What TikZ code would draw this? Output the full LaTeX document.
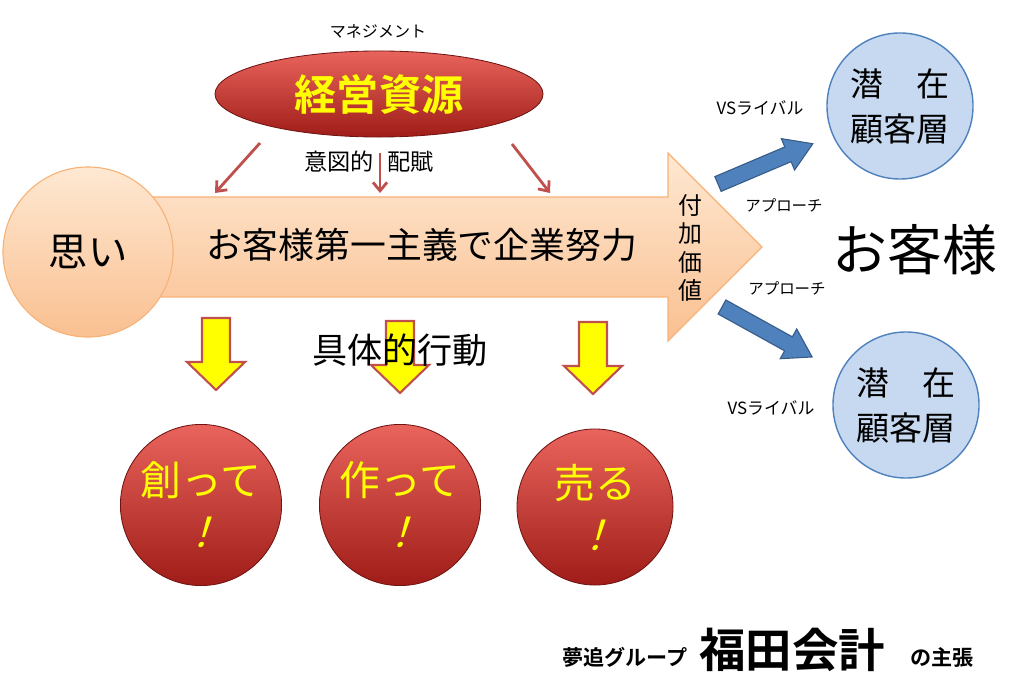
\documentclass[tikz,border=0pt]{standalone}
\usepackage{fontspec}
\setmainfont{Noto Sans CJK JP}[BoldFont={* Bold}]
\newfontfamily\slantjp[FakeSlant=0.3]{Noto Sans CJK JP}
\usetikzlibrary{shapes.geometric,arrows.meta}

\definecolor{kred}{RGB}{192,80,77}
\definecolor{ballredlt}{RGB}{232,100,92}
\definecolor{ballreddk}{RGB}{160,28,24}
\definecolor{peachlt}{RGB}{254,232,210}
\definecolor{peach}{RGB}{250,192,145}
\definecolor{peachedge}{RGB}{247,178,120}
\definecolor{skyfill}{RGB}{198,217,241}
\definecolor{skyedge}{RGB}{79,129,189}
\definecolor{arrowblue}{RGB}{79,129,189}
\definecolor{arrowbluedk}{RGB}{56,93,138}
\definecolor{jyellow}{RGB}{255,255,0}

\begin{document}
\begin{tikzpicture}[>=latex, x=0.025cm, y=-0.025cm,
	redball/.style={circle, draw=ballreddk!70!black, line width=0.6pt, top color=ballredlt, bottom color=ballreddk,
		minimum size=3.9cm, text=jyellow, align=center, font=\fontsize{29pt}{37pt}\selectfont},
	skyball/.style={circle, draw=skyedge, line width=1pt, fill=skyfill, minimum size=3.65cm,
		align=center, font=\fontsize{23.5pt}{32pt}\selectfont},
	downarrow/.style={fill=jyellow, draw=kred, line width=1.5pt, line join=miter},
	thinarrow/.style={draw=kred, line width=2pt, -{Straight Barb[length=6pt,width=10pt]}},
	bluearrow/.style={fill=arrowblue, draw=arrowbluedk, line width=0.8pt, line join=miter}]
			%%%	Help Lines
%			\draw [thin, help lines] (0,0) grid[step=50] (1024,688);
			\useasboundingbox (0,0) rectangle (1024,688);
			%%%	Disegno
			% management
			\node (mgmt) at (378,31) {\fontsize{11.4pt}{14pt}\selectfont マネジメント};
			\node [ellipse, draw=ballreddk!70!black, line width=0.6pt, top color=ballredlt, bottom color=ballreddk,
				minimum width=8.2cm, minimum height=2.15cm, text=jyellow,
				font=\fontsize{30pt}{36pt}\selectfont\bfseries] (keiei) at (379,94) {経営資源};
			\node (ito) at (369,162) {\fontsize{16.5pt}{20pt}\selectfont 意図的\hspace{0.6em}配賦};
			\foreach \sx/\sy/\ex [count=\i] in {260/143/215, 380/153/380, 512/144/550} {
				\coordinate (from\i) at (\sx,\sy);
				\coordinate (to\i) at (\ex,193);
				\draw[thinarrow] (from\i) -- (to\i);
			}
			% big arrow
			\draw [draw=peachedge, line width=0.8pt, top color=peachlt, bottom color=peach, line join=miter]
				(150,197) -- (668,197) -- (668,153) -- (762,247) -- (668,341) -- (668,297) -- (150,297) -- cycle;
			\node [circle, draw=peachedge, line width=0.8pt, top color=peachlt, bottom color=peach,
				minimum size=4.25cm, font=\fontsize{28pt}{32pt}\selectfont] (omoi) at (88,252) {思い};
			\node (motto) at (422,245) {\fontsize{25.5pt}{30pt}\selectfont お客様第一主義で企業努力};
			\node [align=center, font=\fontsize{17pt}{20pt}\selectfont] (fuka) at (690,248) {付\\加\\価\\値};
			% customers
			\node [skyball] (senzai1) at (900,106) {潜　在\\顧客層};
			\node [skyball] (senzai2) at (906,405) {潜　在\\顧客層};
			\node (okyaku) at (915,250) {\fontsize{39pt}{46pt}\selectfont お客様};
			\begin{scope}[shift={(718,184)}, rotate=23]
				\draw[bluearrow] (0,-8) -- (76,-8) -- (76,-17) -- (103,0) -- (76,17) -- (76,8) -- (0,8) -- cycle;
			\end{scope}
			\begin{scope}[shift={(722,307)}, rotate=-29]
				\draw[bluearrow] (0,-8) -- (76,-8) -- (76,-17) -- (103,0) -- (76,17) -- (76,8) -- (0,8) -- cycle;
			\end{scope}
			\node (vs1) at (760,108) {\fontsize{12pt}{14pt}\selectfont VSライバル};
			\node (vs2) at (771,408) {\fontsize{12pt}{14pt}\selectfont VSライバル};
			\node (appr1) at (784,205) {\fontsize{11pt}{13pt}\selectfont アプローチ};
			\node (appr2) at (787,288) {\fontsize{11pt}{13pt}\selectfont アプローチ};
			% actions
			\foreach \ax/\ay in {216/318, 400/321, 593/322}
				\draw[downarrow] (\ax-14,\ay) -- (\ax+14,\ay) -- (\ax+14,\ay+44) -- (\ax+29,\ay+44)
					-- (\ax,\ay+72) -- (\ax-29,\ay+44) -- (\ax-14,\ay+44) -- cycle;
			\node (gutai) at (400,350) {\fontsize{25pt}{30pt}\selectfont 具体的行動};
			\node [redball] (tsukuru1) at (201,505) {創って\\{\slantjp ！}};
			\node [redball] (tsukuru2) at (400,505) {作って\\{\slantjp ！}};
			\node [redball] (uru) at (595,507) {売る\\{\slantjp ！}};
			% signature
			\node (yume) at (625,657) {\fontsize{15pt}{18pt}\selectfont\bfseries 夢追グループ};
			\node (fukuda) at (792,650) {\fontsize{33pt}{38pt}\selectfont\bfseries 福田会計};
			\node (shucho) at (942,657) {\fontsize{15pt}{18pt}\selectfont\bfseries の主張};
		\end{tikzpicture}
\end{document}
